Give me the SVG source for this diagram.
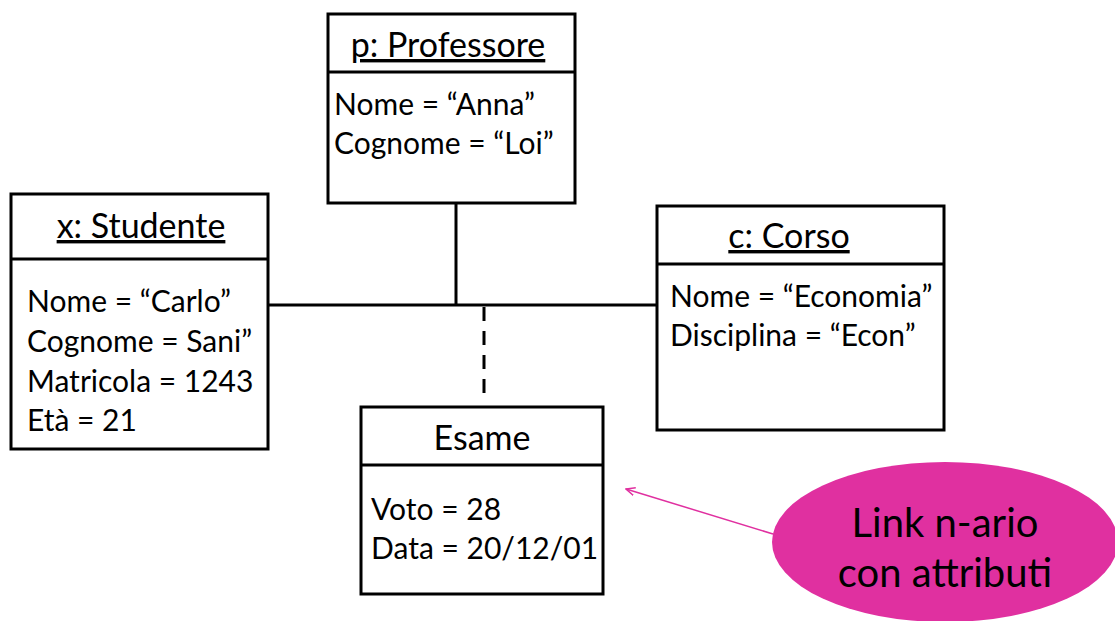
<svg xmlns="http://www.w3.org/2000/svg" width="1115" height="621" viewBox="0 0 1115 621">
<style>
.box{fill:#fff;stroke:#000;stroke-width:3}
.div{stroke:#000;stroke-width:3}
.t{font-family:Lato,"Open Sans",sans-serif;font-size:30px;fill:#000}
.h{font-size:34px;text-anchor:middle}
.u{text-decoration:underline}
.ln{stroke:#000;stroke-width:3;fill:none}
.callout{font-family:Lato,"Open Sans",sans-serif;font-size:40px;fill:#000;text-anchor:middle}
</style>
<defs>
<marker id="ah" viewBox="0 0 10 10" refX="9" refY="5" markerWidth="10" markerHeight="10" orient="auto" markerUnits="userSpaceOnUse">
<path d="M0,1 L9,5 L0,9" fill="none" stroke="#E030A0" stroke-width="1.5"/>
</marker>
</defs>
<g id="connectors">
<line class="ln" x1="268" y1="305" x2="657" y2="305"/>
<line class="ln" x1="456" y1="203" x2="456" y2="305"/>
<line class="ln" x1="484" y1="307" x2="484" y2="400" stroke-dasharray="14,10"/>
<line x1="773" y1="534" x2="626" y2="489" stroke="#E030A0" stroke-width="1.5" marker-end="url(#ah)"/>
</g>
<g id="professore">
<rect class="box" x="328" y="14" width="247" height="189"/>
<line class="div" x1="328" y1="72" x2="575" y2="72"/>
<text class="t h u" x="448" y="57">p: Professore</text>
<text class="t" x="334" y="115">Nome = “Anna”</text>
<text class="t" x="334" y="154">Cognome = “Loi”</text>
</g>
<g id="studente">
<rect class="box" x="11" y="194" width="257" height="255"/>
<line class="div" x1="11" y1="259" x2="268" y2="259"/>
<text class="t h u" x="141" y="238">x: Studente</text>
<text class="t" x="27" y="312">Nome = “Carlo”</text>
<text class="t" x="27" y="352">Cognome = Sani”</text>
<text class="t" x="27" y="392">Matricola = 1243</text>
<text class="t" x="27" y="431">Età = 21</text>
</g>
<g id="corso">
<rect class="box" x="657" y="206" width="287" height="224"/>
<line class="div" x1="657" y1="264" x2="944" y2="264"/>
<text class="t h u" x="789" y="248">c: Corso</text>
<text class="t" x="670" y="307">Nome = “Economia”</text>
<text class="t" x="670" y="346">Disciplina = “Econ”</text>
</g>
<g id="esame">
<rect class="box" x="361" y="407" width="242" height="187"/>
<line class="div" x1="361" y1="465" x2="603" y2="465"/>
<text class="t h" x="482" y="450">Esame</text>
<text class="t" x="371" y="520">Voto = 28</text>
<text class="t" x="371" y="559">Data = 20/12/01</text>
</g>
<g id="callout">
<ellipse cx="945" cy="542" rx="173" ry="80" fill="#E030A0"/>
<text class="callout" x="945" y="537">Link n-ario</text>
<text class="callout" x="945" y="587">con attributi</text>
</g>
</svg>
